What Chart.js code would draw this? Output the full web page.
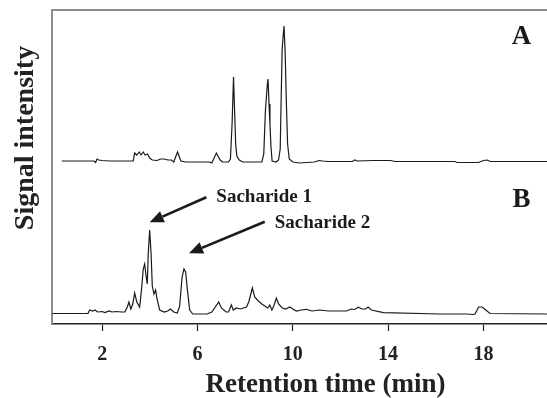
<!DOCTYPE html>
<html>
<head>
<meta charset="utf-8">
<script src="https://cdn.jsdelivr.net/npm/chart.js@4/dist/chart.umd.min.js"></script>
<style>
html,body{margin:0;padding:0;background:#fff;}
#wrap{width:547px;height:398px;position:relative;}
</style>
</head>
<body>
<div id="wrap"><canvas id="c" width="547" height="398"></canvas></div>
<script>
// Retention time (min) and signal intensity (arbitrary units, trace A offset above trace B)
const timeA = [0.3,1.65,1.72,1.78,1.85,2.0,2.3,3.3,3.36,3.45,3.55,3.63,3.72,3.8,3.9,3.99,4.1,4.3,4.45,4.6,4.75,4.9,5.0,5.16,5.3,5.5,6.5,6.6,6.79,6.95,7.05,7.3,7.38,7.45,7.51,7.56,7.6,7.65,7.75,7.9,8.7,8.78,8.85,8.93,8.96,9.0,9.04,9.08,9.13,9.3,9.4,9.47,9.55,9.6,9.63,9.68,9.73,9.78,9.85,10.0,10.3,10.6,10.9,11.1,11.25,11.5,12.5,12.6,12.7,13.4,14.1,14.3,16.8,16.9,17.8,18.0,18.15,18.3,20.7];
const signalA = [163,163,161.5,165,164,163.5,163,163,171,169,172,169,172,169,170,166,164,163.5,165,165,164,164,162,172,163,162,162,161,171,164,162,162,165,200,247,210,180,168,164,162,162,170,214,240,245,220,200,178,163,162,164,175,274,290,298,270,220,180,165,162,161,161.5,162,163.5,163,162.5,162.5,164,163,163.5,163.5,162.5,162.5,161.5,161.5,163.5,164,162.5,162.5];

const timeB = [-0.1,1.4,1.47,1.6,1.7,1.8,2.0,2.1,2.3,2.4,2.6,2.8,2.95,3.05,3.12,3.2,3.28,3.36,3.45,3.57,3.65,3.72,3.78,3.84,3.89,3.93,3.99,4.05,4.1,4.17,4.24,4.3,4.41,4.6,4.75,4.86,5.0,5.15,5.25,5.35,5.43,5.5,5.57,5.67,5.8,6.4,6.6,6.89,7.0,7.2,7.3,7.42,7.5,7.63,7.8,8.05,8.15,8.3,8.4,8.55,8.7,8.82,8.95,9.03,9.12,9.2,9.31,9.4,9.56,9.7,9.87,10.0,10.15,10.35,10.57,10.8,11.13,11.5,12.25,12.45,12.6,12.75,12.9,13.05,13.16,13.3,13.8,16.2,17.3,17.55,17.65,17.8,17.95,18.1,18.28,20.7];
const signalB = [10.5,10.5,14,13,14,12,12.5,11.5,13,12,12.5,12,12,17,22,15,20,31,22,17,35,55,60,48,40,70,94,70,38,30,34,25,14,12,13,15,12,11,18,47,55,52,35,14,10,10,12,22,16,12,12,19,14,16,15,17,22,36,27,23,20,18,16,19,14,18,26,20,16,15,17,15,13,14,14.7,13,14,13,13,15,14.5,16.7,15,15,17,14,11.3,10,10,9.5,10,17,17,14,10.5,10];

const xTicks = [2,6,10,14,18];
const panelLabels = ["A","B"];
const panelLabelPos = [[19.6,287],[19.6,124]];
const peakNames = ["Sacharide 1","Sacharide 2"];
const peakTextPos = [[6.79,127.3],[9.24,100.7]];
const arrowTails = [[6.37,126.7],[8.82,102.3]];
const arrowTips = [[3.99,101.7],[5.64,70.7]];

const SERIF = '"Liberation Serif", "Times New Roman", serif';

const decor = {
  id: 'decor',
  afterDatasetsDraw(chart) {
    const {ctx, chartArea: a, scales: {x, y}} = chart;
    ctx.save();
    // top frame line
    ctx.strokeStyle = '#8c8c8c';
    ctx.lineWidth = 2;
    ctx.beginPath();
    ctx.moveTo(a.left, a.top);
    ctx.lineTo(a.right, a.top);
    ctx.stroke();
    // arrows
    ctx.strokeStyle = '#1a1a1a';
    ctx.fillStyle = '#1a1a1a';
    for (let i = 0; i < arrowTails.length; i++) {
      const x1 = x.getPixelForValue(arrowTails[i][0]), y1 = y.getPixelForValue(arrowTails[i][1]);
      const x2 = x.getPixelForValue(arrowTips[i][0]), y2 = y.getPixelForValue(arrowTips[i][1]);
      const ang = Math.atan2(y2 - y1, x2 - x1);
      const hl = 14, hw = 6;
      const bx = x2 - hl * Math.cos(ang), by = y2 - hl * Math.sin(ang);
      ctx.lineWidth = 2.6;
      ctx.beginPath();
      ctx.moveTo(x1, y1);
      ctx.lineTo(bx, by);
      ctx.stroke();
      ctx.beginPath();
      ctx.moveTo(x2, y2);
      ctx.lineTo(bx + hw * Math.sin(ang), by - hw * Math.cos(ang));
      ctx.lineTo(bx - hw * Math.sin(ang), by + hw * Math.cos(ang));
      ctx.closePath();
      ctx.fill();
    }
    // peak names
    ctx.font = 'bold 19px ' + SERIF;
    ctx.textAlign = 'left';
    ctx.textBaseline = 'middle';
    for (let i = 0; i < peakNames.length; i++) {
      ctx.fillText(peakNames[i], x.getPixelForValue(peakTextPos[i][0]), y.getPixelForValue(peakTextPos[i][1]));
    }
    // panel letters
    ctx.font = 'bold 27px ' + SERIF;
    ctx.textAlign = 'center';
    for (let i = 0; i < panelLabels.length; i++) {
      ctx.fillText(panelLabels[i], x.getPixelForValue(panelLabelPos[i][0]), y.getPixelForValue(panelLabelPos[i][1]));
    }
    // axis titles
    ctx.fillStyle = '#222';
    ctx.font = 'bold 27px ' + SERIF;
    ctx.fillText('Retention time (min)', (a.left + a.right) / 2 + 26, a.bottom + 61);
    ctx.font = 'bold 28px ' + SERIF;
    ctx.translate(a.left - 26, a.top + 128);
    ctx.rotate(-Math.PI / 2);
    ctx.fillText('Signal intensity', 0, 0);
    ctx.restore();
  }
};

new Chart(document.getElementById('c'), {
  type: 'line',
  data: {
    datasets: [
      { data: timeA.map((t, i) => ({x: t, y: signalA[i]})), borderColor: '#1a1a1a', borderWidth: 1.2, pointRadius: 0, tension: 0, fill: false },
      { data: timeB.map((t, i) => ({x: t, y: signalB[i]})), borderColor: '#1a1a1a', borderWidth: 1.2, pointRadius: 0, tension: 0, fill: false }
    ]
  },
  options: {
    responsive: false,
    animation: false,
    events: [],
    layout: { padding: { top: 10, right: 0, left: 0, bottom: 0 } },
    plugins: { legend: { display: false }, tooltip: { enabled: false } },
    scales: {
      x: {
        type: 'linear',
        min: -0.11, max: 20.67,
        afterFit: s => { s.height = 74; },
        afterBuildTicks: s => { s.ticks = xTicks.map(v => ({value: v})); },
        grid: { drawOnChartArea: false, drawTicks: true, tickLength: 7, color: '#222', tickWidth: 1.2 },
        border: { display: true, color: '#222', width: 1.5 },
        ticks: { color: '#222', font: { family: SERIF, size: 20, weight: 'bold' }, padding: 12, maxRotation: 0, autoSkip: false }
      },
      y: {
        min: 0, max: 314,
        afterFit: s => { s.width = 52; },
        grid: { display: false, drawTicks: false },
        border: { display: true, color: '#8c8c8c', width: 2 },
        ticks: { display: false }
      }
    }
  },
  plugins: [decor]
});
</script>
</body>
</html>
